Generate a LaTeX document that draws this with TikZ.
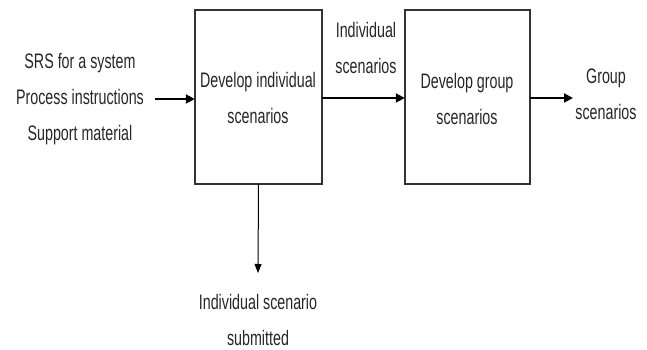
\documentclass[tikz,border=0pt]{standalone}
\usepackage{fontspec}
\setmainfont{Liberation Sans}[FakeStretch=0.68]
\usetikzlibrary{arrows.meta}
\begin{document}
\begin{tikzpicture}[x=1pt,y=-1pt,
  txt/.style={align=center,inner sep=0pt,font=\fontsize{21}{36}\selectfont,text=black!85},
  procbox/.style={draw=black!80,line width=1.5pt},
  flow/.style={line width=2pt,-{Triangle[length=9pt,width=9pt]}},
  thinflow/.style={line width=1pt,-{Triangle[length=9pt,width=7pt]}}]
\useasboundingbox (0,0) rectangle (647,350);
\draw[procbox] (195,10) rectangle (322,184);
\node[inner sep=0pt, minimum width=127pt, minimum height=174pt] (b1) at (258.5,97) {};
\draw[procbox] (405,10) rectangle (530,184);
\node[inner sep=0pt, minimum width=125pt, minimum height=174pt] (b2) at (467.5,97) {};
\node[txt] (in) at (80,99) {SRS for a system\\Process instructions\\Support material};
\node[txt] at (258,98) {Develop individual\\scenarios};
\node[txt] (lab) at (366,48) {Individual\\scenarios};
\node[txt] at (467,99) {Develop group\\scenarios};
\node[txt] (out) at (606,94) {Group\\scenarios};
\node[txt] (sub) at (258,320) {Individual scenario\\submitted};
\coordinate (inS) at (155,99);
\coordinate (outE) at (573,98);
\coordinate (subN) at (258,273);
\draw[flow] (inS) -- (b1.west |- inS);
\draw[flow] (b1.east |- 0,98) -- (b2.west |- 0,98);
\draw[flow] (b2.east |- outE) -- (outE);
\draw[thinflow] (b1.south) -- (subN);
\end{tikzpicture}
\end{document}
